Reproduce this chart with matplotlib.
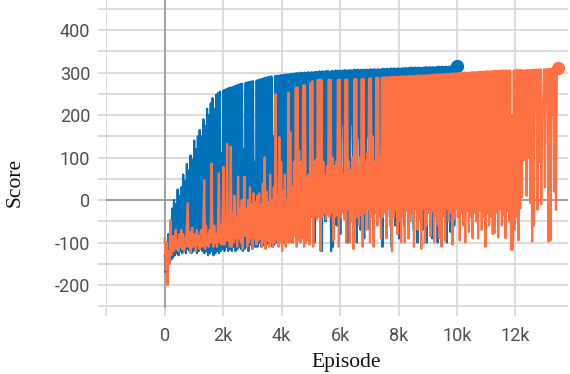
#!/usr/bin/env python3

import numpy as np
import matplotlib
matplotlib.use('Agg')
import matplotlib.pyplot as plt
from matplotlib.ticker import FuncFormatter, MultipleLocator


# score per episode (one point every ~31 episodes)
blue_last_episode = 10000
blue_scores = [
	-130, -170, -100, -160, -80, -150, -60, -140, -20, -135, 0, -130, -10, -125, 25, -130, 10, -120, 30, -125,
	60, -120, 45, -125, 85, -115, 70, -120, 105, -125, 95, -120, 140, -115, 120, -125, 150, -120, 165, -115,
	150, -120, 190, -125, 175, -120, 215, -130, 200, -125, 228, -120, 240, -130, 215, -125, 248, -120, 252, -125,
	255, -120, 110, -115, 258, -120, 260, -110, 262, -120, 264, -115, 265, -120, 266, -110, 268, -120, 270, -115,
	271, -110, 273, -115, 274, -120, 120, -115, 276, -110, 277, -120, 278, -105, 279, -115, 280, -110, 90, -110,
	281, -110, 283, -100, 284, -110, 285, -105, 287, -110, 288, -100, 289, -105, 290, -100, 291, -110, 150, -105,
	292, -100, 293, -95, 293, -100, 294, -90, 294, -100, 295, -95, 295, -90, 296, -100, 296, -95, 297, -100,
	297, -60, 298, 40, 299, -90, 298, 120, 300, -40, 299, 150, 300, -100, 299, 60, 301, -30, 300, 200,
	301, 150, 300, -100, 302, 60, 301, -30, 303, 200, 302, -120, 303, 90, 302, -50, 304, 10, 303, 130,
	302, -120, 304, -110, 303, 40, 305, -60, 304, 130, 305, -80, 304, 180, 305, -20, 306, 250, 305, -100,
	305, -80, 306, 180, 305, -20, 307, 250, 306, -100, 307, 148, 306, -70, 307, 60, 306, -90, 307, 82,
	307, 148, 306, -70, 308, 60, 307, -90, 308, 82, 307, 240, 308, 120, 307, -40, 308, -110, 309, 150,
	308, 240, 309, 200, 308, -40, 310, -110, 309, 150, 310, -60, 309, 100, 310, -90, 309, 50, 310, -20,
	310, -60, 311, 100, 310, -90, 311, 50, 312, -20, 311, -70, 312, 120, 311, -100, 312, -30, 311, 180,
	311, -70, 312, 120, 313, -100, 312, -30, 313, 180, 312, -90, 313, 40, 312, 120, 313, -100, 314, 60,
	313, -90, 314, 40, 313, 120, 314, -100, 313, 105, 314, -75, 315, 5, 314, -60, 315, 100, 316,
]

orange_last_episode = 13450
orange_scores = [
	-90, -165, -100, -200, -120, -150, -47, -130, -100, -85, -120, -90, -70, -115, -95, -120, -80, -110, -70, -115,
	-80, -120, -90, -110, -60, -7, -110, -75, -125, -90, -65, -110, -100, -80, -120, -70, -105, -85, -115, -75,
	-70, -110, -60, 47, -115, -60, -105, -80, -110, -70, -100, 86, -75, -110, -60, -100, -80, -110, -55, 63,
	-100, -60, -105, -40, 78, -105, -50, -95, 133, -95, -60, -110, 126, -110, -30, -100, 10, -90, -40, -110,
	55, -90, -20, -100, 0, -115, -10, 55, -85, -20, -110, 0, -100, 30, -90, -10, -115, 16, -90, -5,
	-105, 10, -95, 16, -90, -10, -110, 40, -100, 101, -115, 20, -95, -5, -110, 60, -100, 0, -110, 30,
	-100, 250, -95, 10, -110, 148, -100, 90, -120, 20, -95, 60, -110, 0, -90, 253, -100, 160, -95, 30,
	-100, 90, -85, 265, -110, 265, -95, 40, -100, 90, -90, 270, -110, 270, -100, 50, -95, 60, -105, 275,
	-40, 280, -110, 90, -35, 95, -45, 283, -40, 283, -120, 283, -40, 90, -30, 60, -45, 80, -35, 283,
	-40, 283, -30, 100, -95, 80, -40, 90, -35, 283, -110, 283, -40, 80, -30, 60, -45, 283, -100, 284,
	-20, 90, -100, 70, -50, 100, -115, 285, -30, 285, -40, 80, -60, 100, -35, 285, -110, 285, -30, 90,
	-70, 110, -20, 286, -100, 287, -40, 150, -110, 90, -30, 288, -60, 288, -25, 100, -90, 288, -40, 289,
	-30, 289, -90, 289, -20, 289, -60, 290, -120, 290, -40, 290, -25, 290, -80, 290, -50, 291, -100, 291,
	-40, 291, -100, 291, -25, 291, -90, 292, -50, 292, -30, 292, -110, 292, -20, 293, -70, 293, -45, 293,
	-115, 293, -20, 293, -100, 294, -60, 294, -30, 294, -85, 295, -25, 295, -100, 295, -40, 295, -60, 296,
	-90, 296, -110, 296, -40, 296, -95, 297, -20, 297, -50, 297, -30, 298, -105, 298, -45, 298, -20, 298,
	-40, 299, -95, 299, -30, 299, -60, 300, -100, 300, -25, 300, -75, 300, -40, 301, -90, 301, -30, 301,
	-50, 301, -90, 302, -25, 302, -70, 302, -40, 302, -110, 303, -30, 303, -60, 303, -40, 303, -80, 304,
	-78, 304, -30, 304, -88, 304, -20, 305, -60, 305, -35, 305, -90, 305, -25, 305, -50, 305, -117, 200,
	-117, 305, -70, 306, -40, 306, -95, 306, -20, 306, 7, 306, 94, 96, 306, 10, 306, 100, 306, -7,
	306, -98, 307, -60, 307, 215, 307, -23, 307, 90, 308, -10, 220, 230, 308, 30, 308, 240, 308, -98,
	309, -95, 309, 200, 309, 20, 310, -23, 300, 310,
]

BLUE = "#0072bb"
ORANGE = "#ff7043"
GRID = "#d9d9d9"
ZERO = "#a3a3a3"


def k_fmt(v, pos):
	if v < 0:
		return ""
	if v == 0:
		return "0"
	return "%dk" % round(v / 1000)


def y_fmt(v, pos):
	v = int(round(v))
	if v % 100 != 0 or v < -200 or v > 400:
		return ""
	return str(v)


def plot(out_file="out.png"):
	fig = plt.figure(figsize=(5.7, 3.74), dpi=100)
	ax = fig.add_axes([105.5 / 570, 66.5 / 374, 462.5 / 570, 307.5 / 374])

	bx = np.linspace(0, blue_last_episode, len(blue_scores))
	ox = np.linspace(0, orange_last_episode, len(orange_scores))

	ax.plot(bx, blue_scores, color=BLUE, lw=1.6, zorder=3)
	ax.plot(bx[-1], blue_scores[-1], 'o', color=BLUE, ms=8.5, zorder=3)
	ax.plot(ox, orange_scores, color=ORANGE, lw=1.6, zorder=4)
	ax.plot(ox[-1], orange_scores[-1], 'o', color=ORANGE, ms=8.5, zorder=4)

	ax.axhline(0, color=ZERO, lw=1.5, zorder=2)
	ax.axvline(0, color=ZERO, lw=1.5, zorder=2)

	ax.set_xlim(-2030, 13800)
	ax.set_ylim(-253, 471)
	ax.xaxis.set_major_locator(MultipleLocator(2000))
	ax.yaxis.set_major_locator(MultipleLocator(50))
	ax.xaxis.set_major_formatter(FuncFormatter(k_fmt))
	ax.yaxis.set_major_formatter(FuncFormatter(y_fmt))
	ax.grid(True, color=GRID, lw=1.3, zorder=1)
	ax.set_axisbelow(True)
	for s in ax.spines.values():
		s.set_visible(False)

	ax.tick_params(axis='both', color=GRID, width=1.3, length=6,
		labelsize=13, labelcolor="#505050")
	ax.tick_params(axis='x', pad=8)
	ax.tick_params(axis='y', pad=5)
	for t in ax.get_xticklabels() + ax.get_yticklabels():
		t.set_family(["Roboto", "DejaVu Sans"])

	ax.set_xlabel("Episode", family="Liberation Serif", fontsize=15.5, color="#111111")
	ax.set_ylabel("Score", family="Liberation Serif", fontsize=15.5, color="#111111")
	ax.xaxis.set_label_coords(0.52, -0.148)
	ax.yaxis.set_label_coords(-0.174, 0.408)

	fig.savefig(out_file, dpi=100)


def main():
	plot()


if __name__ == "__main__":
	main()
